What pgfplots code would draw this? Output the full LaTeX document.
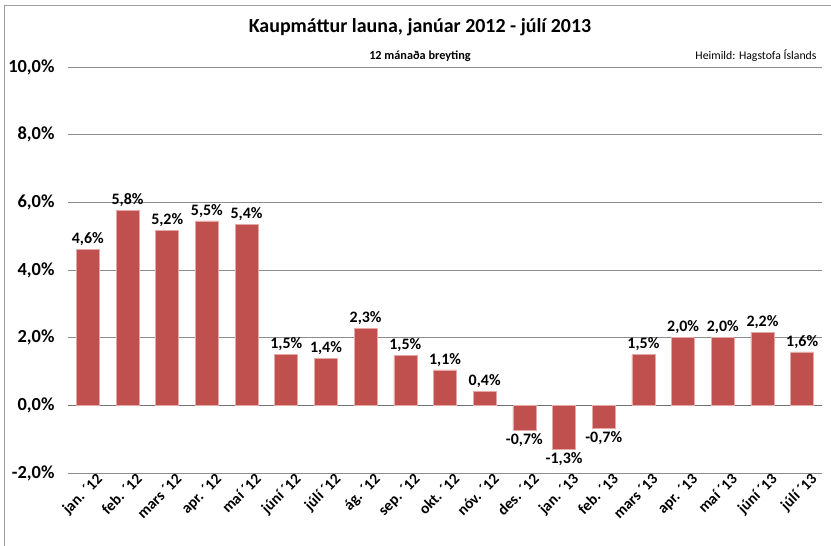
\documentclass[border=0pt]{standalone}
\usepackage{pgfplots}
\pgfplotsset{compat=1.18}
\usepackage{fontspec}
\setmainfont{Carlito}
\definecolor{barred}{HTML}{C0504D}
\definecolor{baredge}{HTML}{E6A8A6}
\definecolor{gridgray}{HTML}{8C8C8C}
\begin{document}
\begin{tikzpicture}[x=1bp,y=1bp]
\begin{axis}[
  at={(0,0)}, anchor=south west,
  scale only axis, width=754bp, height=406bp,
  ymin=-2, ymax=10, xmin=-0.5, xmax=18.5,
  ybar, bar width=23bp,
  axis line style={draw=none},
  major tick length=0pt,
  ytick={-2,0,2,4,6,8,10},
  yticklabels={{-2,0\%},{0,0\%},{2,0\%},{4,0\%},{6,0\%},{8,0\%},{10,0\%}},
  ymajorgrids,
  grid style={draw=gridgray, line width=0.9bp},
  extra y ticks={0}, extra y tick labels={},
  extra y tick style={grid style={draw=black!55, line width=1.4bp}},
  y tick label style={font=\fontsize{18.5}{22}\selectfont\bfseries, xshift=-10bp},
  xtick={0,...,18},
  xticklabels={jan. ´12,feb. ´12,mars ´12,apr. ´12,maí ´12,júní ´12,júlí ´12,ág. ´12,sep. ´12,okt. ´12,nóv. ´12,des. ´12,jan. ´13,feb. ´13,mars ´13,apr. ´13,maí ´13,júní ´13,júlí ´13},
  x tick label style={font=\fontsize{15.5}{18}\selectfont\bfseries, rotate=45, anchor=north east, inner sep=1bp, xshift=7bp, yshift=-4bp},
  nodes near coords={\pgfmathprintnumber[fixed,fixed zerofill,precision=1,use comma]{\pgfplotspointmeta}\%},
  nodes near coords style={font=\fontsize{16}{19}\selectfont\bfseries, /pgf/number format/assume math mode=true},
  clip=false,
]
\addplot[fill=barred, draw=baredge, line width=0.6bp] coordinates {
(0,4.61) (1,5.76) (2,5.18) (3,5.45) (4,5.35) (5,1.5) (6,1.38) (7,2.27) (8,1.48) (9,1.05)
(10,0.41) (11,-0.74) (12,-1.3) (13,-0.68) (14,1.5) (15,2.0) (16,2.0) (17,2.16) (18,1.58)};
\end{axis}
\draw[gray!75, line width=0.8bp] (-64,-120) -- (-64,468) -- (900,468);
\node[font=\fontsize{20}{24}\selectfont\bfseries] at (352,446) {Kaupmáttur launa, janúar 2012 - júlí 2013};
\node[font=\fontsize{12.3}{14}\selectfont\bfseries] at (352,417) {12 mánaða breyting};
\node[font=\fontsize{11.8}{14}\selectfont, anchor=east] at (752,417) {Heimild: Hagstofa Íslands};
\pgfresetboundingbox
\useasboundingbox (-68,-73) rectangle (763,473);
\end{tikzpicture}
\end{document}
